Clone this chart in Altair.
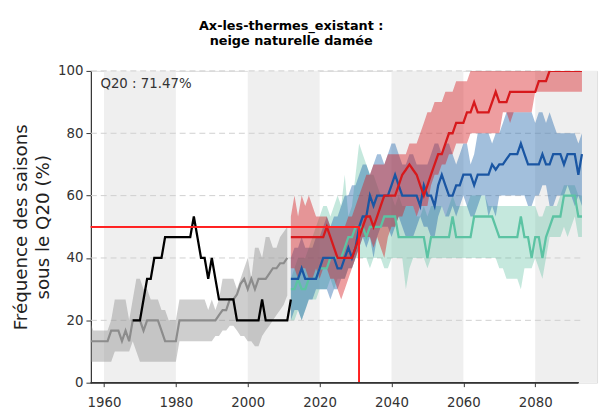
import altair as alt
import pandas as pd

# ---------------- data ----------------
hist_years = list(range(1956, 2012))
hist_med = [13.3, 13.3, 13.3, 13.3, 13.3, 13.3, 16.7, 16.7, 16.7, 13.3,
            16.7, 13.3, 20, 20, 20, 16.7, 20, 20, 20, 20,
            16.7, 13.3, 13.3, 13.3, 13.3, 20, 20, 20, 20, 20,
            20, 20, 20, 20, 20, 20, 21.7, 23.3, 23.3, 26.7,
            26.7, 28.3, 31.7, 33.3, 30, 33.3, 30, 33.3, 33.3, 33.3,
            35, 36.7, 36.7, 38.3, 38.3, 40]
hist_lo = [6.7, 6.7, 6.7, 6.7, 6.7, 6.7, 6.7, 10, 10, 10,
           10, 10, 13.3, 10, 6.7, 6.7, 6.7, 6.7, 6.7, 6.7,
           6.7, 6.7, 6.7, 6.7, 6.7, 13.3, 13.3, 13.3, 13.3, 13.3,
           13.3, 13.3, 13.3, 13.3, 13.3, 15, 15, 16.7, 16.7, 18.3,
           18.3, 16.7, 15, 15, 13.3, 13.3, 11.7, 11.7, 15, 16.7,
           18.3, 20, 21.7, 23.3, 25, 28]
hist_hi = [20, 16.7, 16.7, 16.7, 16.7, 16.7, 20, 26.7, 26.7, 26.7,
           26.7, 20, 26.7, 33.3, 33.3, 30, 30, 26.7, 26.7, 26.7,
           23.3, 23.3, 20, 20, 20, 26.7, 26.7, 26.7, 26.7, 26.7,
           26.7, 26.7, 26.7, 23.3, 26.7, 23.3, 26.7, 33.3, 33.3, 33.3,
           33.3, 30, 33.3, 36.7, 40, 33.3, 43.3, 43.3, 40, 46.7,
           46.7, 43.3, 43.3, 46.7, 48.3, 50]

obs_years = list(range(1968, 2013))
obs_vals = [20, 20, 20, 26.7, 33.3, 33.3, 40, 40, 40, 46.7,
            46.7, 46.7, 46.7, 46.7, 46.7, 46.7, 46.7, 53.3, 46.7, 40,
            40, 33.3, 40, 33.3, 26.7, 26.7, 26.7, 26.7, 26.7, 20,
            20, 20, 20, 20, 20, 20, 26.7, 20, 20, 20,
            20, 20, 20, 20, 26.7]

scen_years = list(range(2012, 2094))

red_med = [46.7, 46.7, 46.7, 46.7, 46.7, 46.7, 46.7, 46.7, 46.7, 46.7,
           50, 46.7, 43.3, 40, 40, 40, 40, 40, 43.3, 46.7,
           50, 53.3, 53.3, 50, 53.3, 56.7, 60, 60, 60, 60,
           63.3, 66.7, 68.3, 70, 68.3, 66.7, 63.3, 60, 63.3, 66.7,
           70, 73.3, 73.3, 76.7, 80, 80, 83.3, 83.3, 83.3, 86.7,
           86.7, 90, 86.7, 86.7, 86.7, 86.7, 90, 93.3, 90, 90,
           90, 93.3, 93.3, 93.3, 93.3, 93.3, 93.3, 93.3, 93.3, 96.7,
           96.7, 96.7, 100, 100, 100, 100, 100, 100, 100, 100, 100, 100]
red_lo = [36.7, 36.7, 33.3, 36.7, 36.7, 33.3, 33.3, 36.7, 33.3, 36.7,
          36.7, 33.3, 33.3, 30, 26.7, 30, 33.3, 36.7, 40, 43.3,
          46.7, 46.7, 46.7, 43.3, 46.7, 43.3, 40, 46.7, 50, 50,
          53.3, 53.3, 56.7, 56.7, 56.7, 53.3, 56.7, 56.7, 56.7, 63.3,
          66.7, 66.7, 70, 70, 73.3, 73.3, 76.7, 76.7, 76.7, 76.7,
          80, 80, 80, 80, 80, 80, 80, 80, 80, 86.7,
          86.7, 83.3, 86.7, 86.7, 86.7, 86.7, 86.7, 86.7, 93.3, 93.3,
          93.3, 93.3, 93.3, 93.3, 93.3, 93.3, 93.3, 93.3, 93.3, 93.3, 93.3, 93.3]
red_hi = [53.3, 60, 53.3, 60, 56.7, 60, 56.7, 53.3, 53.3, 53.3,
          53.3, 50, 50, 50, 50, 50, 53.3, 53.3, 56.7, 60,
          63.3, 66.7, 66.7, 70, 70, 70, 70, 73.3, 73.3, 73.3,
          73.3, 73.3, 73.3, 76.7, 76.7, 76.7, 80, 83.3, 86.7, 86.7,
          90, 90, 90, 93.3, 93.3, 93.3, 96.7, 96.7, 96.7, 96.7,
          100, 100, 100, 100, 100, 100, 100, 100, 100, 100,
          100, 100, 100, 100, 100, 100, 100, 100, 100, 100,
          100, 100, 100, 100, 100, 100, 100, 100, 100, 100, 100, 100]

blue_med = [33.3, 33.3, 33.3, 36.7, 33.3, 33.3, 33.3, 33.3, 36.7, 40,
            40, 40, 40, 36.7, 36.7, 40, 43.3, 40, 43.3, 50,
            53.3, 53.3, 60, 56.7, 60, 60, 60, 60, 63.3, 66.7,
            63.3, 60, 60, 60, 60, 60, 56.7, 63.3, 60, 60,
            56.7, 63.3, 66.7, 63.3, 60, 60, 63.3, 63.3, 66.7, 66.7,
            66.7, 63.3, 66.7, 66.7, 66.7, 66.7, 70, 68.3, 70, 70,
            71.7, 73.3, 73.3, 73.3, 76.7, 73.3, 70, 70, 70, 70,
            73.3, 70, 70, 73.3, 73.3, 73.3, 70, 73.3, 73.3, 73.3, 66.7, 73.3]
blue_lo = [20, 23.3, 23.3, 20, 23.3, 26.7, 26.7, 30, 30, 30,
           30, 26.7, 30, 30, 33.3, 33.3, 36.7, 36.7, 40, 43.3,
           46.7, 43.3, 46.7, 40, 46.7, 50, 50, 50, 46.7, 50,
           53.3, 50, 46.7, 46.7, 46.7, 50, 53.3, 50, 50, 46.7,
           46.7, 53.3, 56.7, 53.3, 53.3, 56.7, 53.3, 56.7, 60, 56.7,
           53.3, 53.3, 56.7, 60, 60, 53.3, 56.7, 53.3, 60, 60,
           60, 60, 60, 60, 60, 60, 56.7, 56.7, 60, 60,
           63.3, 63.3, 56.7, 56.7, 60, 60, 60, 63.3, 60, 56.7, 60, 56.7]
blue_hi = [40, 43.3, 43.3, 46.7, 43.3, 43.3, 43.3, 46.7, 46.7, 50,
           53.3, 50, 53.3, 53.3, 56.7, 60, 60, 63.3, 63.3, 66.7,
           70, 70, 66.7, 70, 73.3, 73.3, 70, 73.3, 76.7, 76.7,
           73.3, 70, 70, 73.3, 73.3, 70, 70, 70, 70, 73.3,
           76.7, 76.7, 73.3, 76.7, 76.7, 73.3, 70, 73.3, 76.7, 76.7,
           70, 73.3, 80, 80, 80, 80, 76.7, 80, 80, 83.3,
           86.7, 86.7, 86.7, 86.7, 86.7, 86.7, 86.7, 86.7, 83.3, 86.7,
           86.7, 83.3, 86.7, 83.3, 80, 80, 80, 80, 80, 80, 76.7, 80]

teal_med = [30, 30, 33.3, 30, 30, 33.3, 33.3, 33.3, 36.7, 36.7,
            36.7, 40, 40, 40, 40, 43.3, 46.7, 46.7, 50, 50,
            50, 46.7, 50, 50, 50, 50, 53.3, 53.3, 53.3, 53.3,
            46.7, 46.7, 46.7, 46.7, 46.7, 46.7, 46.7, 46.7, 40, 46.7,
            46.7, 46.7, 46.7, 46.7, 46.7, 53.3, 46.7, 46.7, 46.7, 46.7,
            46.7, 53.3, 53.3, 53.3, 53.3, 53.3, 53.3, 50, 46.7, 46.7,
            46.7, 46.7, 46.7, 46.7, 53.3, 46.7, 46.7, 40, 46.7, 46.7,
            40, 46.7, 50, 53.3, 53.3, 53.3, 60, 60, 60, 60, 53.3, 53.3]
teal_lo = [20, 20, 23.3, 20, 23.3, 26.7, 26.7, 26.7, 30, 30,
           30, 33.3, 30, 33.3, 33.3, 33.3, 36.7, 36.7, 40, 40,
           40, 40, 36.7, 40, 40, 40, 36.7, 36.7, 40, 40,
           40, 40, 30, 36.7, 40, 40, 40, 40, 36.7, 40,
           40, 40, 40, 40, 40, 40, 40, 40, 40, 40,
           40, 40, 40, 40, 40, 40, 40, 40, 36.7, 36.7,
           33.3, 33.3, 33.3, 33.3, 30, 36.7, 36.7, 36.7, 40, 36.7,
           33.3, 40, 46.7, 46.7, 46.7, 46.7, 50, 46.7, 50, 53.3, 46.7, 46.7]
teal_hi = [33.3, 36.7, 40, 40, 40, 43.3, 46.7, 50, 53.3, 56.7,
           56.7, 53.3, 56.7, 60, 56.7, 66.7, 53.3, 56.7, 66.7, 76.7,
           73.3, 70, 66.7, 66.7, 63.3, 60, 60, 60, 60, 56.7,
           60, 56.7, 56.7, 56.7, 56.7, 53.3, 53.3, 56.7, 53.3, 56.7,
           56.7, 56.7, 56.7, 53.3, 56.7, 60, 56.7, 56.7, 56.7, 56.7,
           60, 60, 60, 60, 60, 56.7, 56.7, 56.7, 56.7, 56.7,
           56.7, 56.7, 56.7, 56.7, 56.7, 56.7, 56.7, 56.7, 56.7, 53.3,
           53.3, 56.7, 56.7, 56.7, 56.7, 60, 63.3, 63.3, 63.3, 63.3, 60, 60]

band_starts = [1960, 2000, 2040, 2080]
band_ends = [1980, 2020, 2060, 2100]
grid_levels = [20, 40, 60, 80, 100]
x_ticks = [1960, 1980, 2000, 2020, 2040, 2060, 2080]
y_ticks = [0, 20, 40, 60, 80, 100]
q20_year = 2031
q20_level = 50
q20_label = "Q20 : 71.47%"
title_lines = ["Ax-les-thermes_existant :", "neige naturelle damée"]
ytitle_lines = ["Fréquence des saisons", "sous le Q20 (%)"]

X_MIN, X_MAX = 1956.35, 2097.2
X_END = 2092

# ---------------- frames ----------------
hist_df = pd.DataFrame({"year": hist_years, "med": hist_med, "lo": hist_lo, "hi": hist_hi})
obs_df = pd.DataFrame({"year": obs_years, "val": obs_vals})
red_df = pd.DataFrame({"year": scen_years, "med": red_med, "lo": red_lo, "hi": red_hi})
blue_df = pd.DataFrame({"year": scen_years, "med": blue_med, "lo": blue_lo, "hi": blue_hi})
teal_df = pd.DataFrame({"year": scen_years, "med": teal_med, "lo": teal_lo, "hi": teal_hi})
bands_df = pd.DataFrame({"s": band_starts, "e": band_ends})
grid_df = pd.DataFrame({"v": grid_levels})

FONT = "DejaVu Sans"
x_scale = alt.Scale(domain=[X_MIN, X_MAX], nice=False, zero=False)
y_scale = alt.Scale(domain=[0, 100], nice=False, zero=False)
x_axis = alt.Axis(values=x_ticks, format="d", title=None, domain=False, grid=False,
                  tickSize=4, tickColor="#333333", tickWidth=1,
                  labelFontSize=13.5, labelColor="#333333", labelFont=FONT, labelPadding=9)
y_axis = alt.Axis(values=y_ticks, format="d", title=ytitle_lines, domain=True,
                  domainColor="#333333", domainWidth=1.2, grid=False,
                  tickSize=5, tickColor="#333333", tickWidth=1,
                  labelFontSize=13.5, labelColor="#333333", labelFont=FONT, labelPadding=3,
                  titleFont=FONT, titleFontSize=18.5, titleFontWeight="normal",
                  titleColor="#222222", titlePadding=5, titleLineHeight=22)


def X(field=None, datum=None):
    if datum is not None:
        return alt.X(datum=datum, type="quantitative", scale=x_scale, axis=x_axis)
    return alt.X(field, type="quantitative", scale=x_scale, axis=x_axis)


def Y(field=None, datum=None):
    if datum is not None:
        return alt.Y(datum=datum, type="quantitative", scale=y_scale, axis=y_axis)
    return alt.Y(field, type="quantitative", scale=y_scale, axis=y_axis)


base_bands = alt.Chart(bands_df).mark_rect(color="#efefef", clip=True).encode(
    x=X("s"), x2="e", y=Y(datum=0), y2=alt.Y2(datum=100))

grid = alt.Chart(grid_df).mark_rule(color="#cfcfcf", strokeDash=[6, 4], strokeWidth=1).encode(
    x=X(datum=X_MIN), x2=alt.X2(datum=2093), y=Y("v"))


def band(df, color, op):
    return alt.Chart(df).mark_area(color=color, opacity=op, clip=True).encode(
        x=X("year"), y=Y("lo"), y2="hi")


def line(df, field, color, w):
    return alt.Chart(df).mark_line(color=color, strokeWidth=w, clip=True).encode(
        x=X("year"), y=Y(field))


hist_band = band(hist_df, "#8a8a8a", 0.42)
hist_line = line(hist_df, "med", "#8c8c8c", 2.2)
teal_band = band(teal_df, "#66c2a5", 0.38)
blue_band = band(blue_df, "#2166ac", 0.42)
red_band = band(red_df, "#d7191c", 0.42)
obs_line = line(obs_df, "val", "#000000", 2.3)
teal_line = line(teal_df, "med", "#5cc3a3", 2.3)
blue_line = line(blue_df, "med", "#1a56a3", 2.3)
red_line = line(red_df, "med", "#d7191c", 2.3)

q_h = alt.Chart(grid_df).mark_rule(color="#ff2020", strokeWidth=1.2).encode(
    x=X(datum=X_MIN), x2=alt.X2(datum=q20_year), y=Y(datum=q20_level))
q_v = alt.Chart(grid_df).mark_rule(color="#ff2020", strokeWidth=1.2).encode(
    x=X(datum=q20_year), y=Y(datum=0), y2=alt.Y2(datum=q20_level))
x_spine = alt.Chart(grid_df).mark_rule(color="#333333", strokeWidth=1.2).encode(
    x=X(datum=X_MIN), x2=alt.X2(datum=X_END), y=Y(datum=0))
q_text = alt.Chart(pd.DataFrame({"t": [q20_label]})).mark_text(
    align="left", baseline="middle", font=FONT, fontSize=13.5,
    fontWeight="normal", color="#333333").encode(
    x=X(datum=1959.0), y=Y(datum=95.9), text="t:N")

chart = alt.layer(
    base_bands, grid, hist_band, hist_line, teal_band, blue_band, red_band,
    obs_line, teal_line, blue_line, red_line, q_h, q_v, x_spine, q_text
).properties(
    width=513, height=316,
    autosize=alt.AutoSizeParams(type="none"),
    padding={"left": 84, "top": 61, "right": 3, "bottom": 30},
    title=alt.TitleParams(text=title_lines, font=FONT, fontSize=13, fontWeight="bold",
                          color="#000000", anchor="middle", dx=-53.5, offset=16,
                          lineHeight=15.5, frame="group"),
).configure_view(stroke=None).configure(background="white")

chart.save("out.html", embed_options={"renderer": "svg", "actions": False})
